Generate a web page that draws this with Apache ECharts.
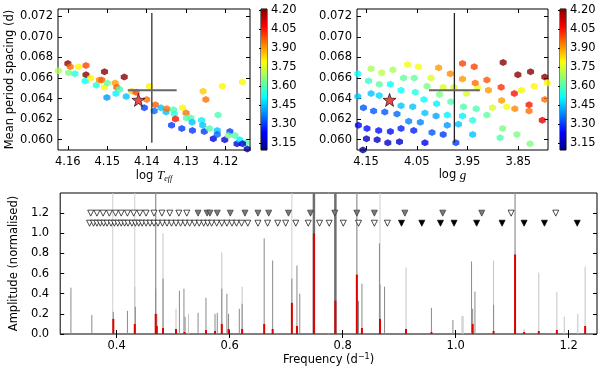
<!DOCTYPE html>
<html>
<head>
<meta charset="utf-8">
<script src="https://cdn.jsdelivr.net/npm/echarts@6/dist/echarts.min.js"></script>
<style>
  html, body { margin: 0; padding: 0; background: #fff; }
  #chart { width: 600px; height: 370px; }
</style>
</head>
<body>
<div id="chart"></div>
<script>
// models: [log Teff, mean period spacing, colour value]
const teffPoints = [
  [4.1624, 0.0667, 3.70], [4.1600, 0.0674, 4.20], [4.1594, 0.0671, 3.95], [4.1598, 0.0665, 3.65],
  [4.1582, 0.0664, 3.55], [4.1573, 0.0671, 3.80], [4.1554, 0.0672, 4.00], [4.1554, 0.0663, 4.20],
  [4.1556, 0.0657, 3.52], [4.1542, 0.0660, 3.80], [4.1528, 0.0653, 3.55], [4.1520, 0.0658, 3.92],
  [4.1514, 0.0658, 3.97], [4.1507, 0.0666, 4.20], [4.1507, 0.0651, 3.80], [4.1500, 0.0655, 3.62],
  [4.1501, 0.0641, 3.40], [4.1480, 0.0655, 3.90], [4.1476, 0.0651, 3.97], [4.1478, 0.0645, 3.50],
  [4.1469, 0.0649, 3.60], [4.1457, 0.0661, 4.20], [4.1452, 0.0642, 3.45], [4.1438, 0.0647, 3.85],
  [4.1427, 0.0646, 4.00], [4.1406, 0.0631, 3.30], [4.1400, 0.0639, 3.95], [4.1393, 0.0652, 3.80],
  [4.1381, 0.0628, 3.35], [4.1378, 0.0634, 3.97], [4.1364, 0.0631, 3.45], [4.1351, 0.0627, 3.45],
  [4.1349, 0.0630, 3.95], [4.1337, 0.0614, 3.30], [4.1332, 0.0629, 3.60], [4.1330, 0.0625, 3.55],
  [4.1327, 0.0620, 4.05], [4.1311, 0.0611, 3.30], [4.1309, 0.0631, 3.80], [4.1300, 0.0626, 3.95],
  [4.1299, 0.0621, 3.60], [4.1288, 0.0621, 3.60], [4.1285, 0.0617, 3.45], [4.1284, 0.0609, 3.30],
  [4.1261, 0.0619, 3.50], [4.1258, 0.0614, 3.45], [4.1257, 0.0647, 3.85], [4.1254, 0.0608, 3.30],
  [4.1250, 0.0639, 3.95], [4.1241, 0.0611, 3.60], [4.1231, 0.0601, 3.20], [4.1221, 0.0609, 3.45],
  [4.1219, 0.0624, 3.60], [4.1221, 0.0605, 3.35], [4.1208, 0.0652, 3.80], [4.1202, 0.0600, 3.20],
  [4.1189, 0.0608, 3.30], [4.1193, 0.0604, 3.65], [4.1176, 0.0604, 3.60], [4.1171, 0.0596, 3.20],
  [4.1164, 0.0600, 3.50], [4.1157, 0.0656, 3.80], [4.1149, 0.0597, 3.60], [4.1157, 0.0596, 3.20],
  [4.1145, 0.0591, 3.12]
];

// models: [log g, mean period spacing, colour value]
const loggPoints = [
  [4.166, 0.0664, 3.52], [4.166, 0.0642, 3.45], [4.140, 0.0669, 3.70], [4.145, 0.0657, 3.57],
  [4.140, 0.0645, 3.45], [4.155, 0.0631, 3.33], [4.165, 0.0614, 3.22], [4.148, 0.0611, 3.25],
  [4.149, 0.0601, 3.17], [4.156, 0.0590, 3.12], [4.119, 0.0665, 3.72], [4.124, 0.0654, 3.62],
  [4.124, 0.0643, 3.47], [4.135, 0.0628, 3.33], [4.125, 0.0609, 3.25], [4.128, 0.0600, 3.17],
  [4.097, 0.0668, 3.70], [4.102, 0.0654, 3.52], [4.113, 0.0627, 3.33], [4.102, 0.0608, 3.25],
  [4.107, 0.0597, 3.17], [4.081, 0.0648, 3.52], [4.089, 0.0625, 3.35], [4.081, 0.0633, 3.45],
  [4.081, 0.0611, 3.27], [4.084, 0.0598, 3.18], [4.076, 0.0660, 3.62], [4.068, 0.0673, 3.78],
  [4.056, 0.0609, 3.27], [4.066, 0.0618, 3.38], [4.058, 0.0632, 3.45], [4.053, 0.0646, 3.55],
  [4.055, 0.0660, 3.62], [4.047, 0.0671, 3.78], [4.034, 0.0597, 3.22], [4.043, 0.0617, 3.38],
  [4.034, 0.0626, 3.45], [4.036, 0.0639, 3.52], [4.030, 0.0652, 3.65], [4.022, 0.0660, 3.75],
  [4.007, 0.0670, 3.90], [4.020, 0.0607, 3.33], [4.012, 0.0623, 3.42], [4.011, 0.0635, 3.50],
  [4.005, 0.0644, 3.65], [3.998, 0.0651, 3.75], [3.984, 0.0664, 3.92], [3.998, 0.0605, 3.30],
  [3.990, 0.0614, 3.40], [3.990, 0.0624, 3.50], [3.983, 0.0637, 3.60], [3.977, 0.0651, 3.75],
  [3.973, 0.0597, 3.30], [3.960, 0.0674, 4.00], [3.960, 0.0659, 3.90], [3.952, 0.0645, 3.75],
  [3.958, 0.0632, 3.60], [3.960, 0.0623, 3.50], [3.968, 0.0615, 3.45], [3.940, 0.0605, 3.45],
  [3.940, 0.0619, 3.55], [3.933, 0.0630, 3.60], [3.930, 0.0650, 3.78], [3.937, 0.0671, 4.00],
  [3.935, 0.0655, 3.95], [3.912, 0.0658, 3.98], [3.909, 0.0648, 3.90], [3.901, 0.0631, 3.75],
  [3.912, 0.0624, 3.62], [3.886, 0.0602, 3.60], [3.881, 0.0611, 3.65], [3.884, 0.0651, 4.02],
  [3.883, 0.0638, 3.90], [3.880, 0.0675, 4.20], [3.873, 0.0632, 3.78], [3.844, 0.0648, 3.80],
  [3.858, 0.0645, 4.05], [3.857, 0.0630, 3.92], [3.851, 0.0663, 4.20], [3.853, 0.0605, 3.65],
  [3.826, 0.0666, 4.20], [3.829, 0.0634, 4.05], [3.829, 0.0628, 3.95], [3.819, 0.0652, 3.80],
  [3.827, 0.0596, 3.65], [3.803, 0.0619, 4.10], [3.798, 0.0661, 4.20], [3.798, 0.0639, 3.95],
  [3.793, 0.0655, 3.80]
];

const bestTeff = [4.1421, 0.06387];
const bestLogg = [4.1036, 0.06387];
const obsTeff = [4.1448, 4.1324];
const obsLogg = [4.026, 3.926];
const obsTeffMid = 4.1387;
const obsLoggMid = 3.976;
const obsDP = 0.0648;
const obsDPRange = [0.0597, 0.0723];

const colourMin = 3.097;
const colourMax = 4.21;
const colourTicks = [3.15, 3.30, 3.45, 3.60, 3.75, 3.90, 4.05, 4.20];
const dpTicks = [0.060, 0.062, 0.064, 0.066, 0.068, 0.070, 0.072];
const teffTicks = [4.16, 4.15, 4.14, 4.13, 4.12];
const loggTicks = [4.15, 4.05, 3.95, 3.85];
const freqTicks = [0.4, 0.6, 0.8, 1.0, 1.2];
const ampTicks = [0.0, 0.2, 0.4, 0.6, 0.8, 1.0, 1.2];

// periodogram peaks: [frequency, amplitude]
const grayPeaks = [
  [0.319, 0.46], [0.356, 0.19], [0.394, 0.22], [0.419, 0.23], [0.433, 0.27], [0.469, 0.45],
  [0.471, 0.20], [0.482, 0.55], [0.511, 0.43], [0.519, 0.45], [0.521, 0.17], [0.544, 0.21],
  [0.558, 0.36], [0.574, 0.20], [0.578, 0.21], [0.586, 0.45], [0.595, 0.40], [0.598, 0.20],
  [0.617, 0.25], [0.622, 0.30], [0.661, 0.95], [0.676, 0.73], [0.710, 0.55], [0.719, 0.68],
  [0.724, 0.40], [0.828, 0.33], [0.834, 0.50], [0.865, 0.90], [0.866, 0.49], [0.874, 0.47],
  [0.957, 0.26], [0.995, 0.14], [1.028, 0.72], [1.030, 0.25], [1.034, 0.42], [1.067, 0.29]
];
const lightPeaks = [
  [0.432, 0.47], [0.482, 1.00], [0.505, 0.25], [0.527, 0.20], [0.586, 0.81], [0.622, 0.47],
  [0.912, 0.66], [1.011, 0.18], [1.013, 0.18], [1.067, 0.73], [1.121, 0.05], [1.147, 0.61],
  [1.179, 0.42], [1.192, 0.17], [1.216, 0.20], [1.229, 0.67]
];
const redPeaks = [
  [0.394, 0.15], [0.432, 0.10], [0.469, 0.20], [0.471, 0.08], [0.482, 0.06], [0.505, 0.05],
  [0.520, 0.02], [0.558, 0.04], [0.574, 0.03], [0.586, 0.10], [0.598, 0.05], [0.622, 0.05],
  [0.661, 0.10], [0.676, 0.05], [0.710, 0.31], [0.719, 0.08], [0.749, 1.00], [0.787, 0.33],
  [0.825, 0.59], [0.834, 0.06], [0.866, 0.15], [0.912, 0.05], [0.957, 0.02], [1.030, 0.10],
  [1.067, 0.03], [1.105, 0.79], [1.121, 0.02], [1.147, 0.03], [1.179, 0.04], [1.229, 0.08]
];
const modeLinesDark = [0.749, 0.787];
const modeLinesMid = [0.469, 0.825, 1.105];
const modeLinesLight = [0.393, 0.432, 0.710, 0.866];

// triangle markers (two rows)
const rowHigh = 1.2;
const rowLow = 1.1;
const highOpen = [0.354, 0.365, 0.376, 0.387, 0.398, 0.408, 0.419, 0.430, 0.441, 0.452,
  0.466, 0.480, 0.494, 0.510, 0.524, 1.098, 1.177];
const highGray = [0.544, 0.560, 0.565, 0.578, 0.601, 0.627, 0.650, 0.669, 0.704, 0.743,
  0.786, 0.825, 0.856, 0.910, 0.977, 1.046];
const lowOpen = [0.352, 0.359, 0.365, 0.371, 0.377, 0.383, 0.390, 0.396, 0.402, 0.408,
  0.414, 0.420, 0.427, 0.433, 0.439, 0.445, 0.452, 0.459, 0.466, 0.473, 0.481, 0.489,
  0.497, 0.505, 0.513, 0.521, 0.529, 0.538, 0.546, 0.554, 0.561, 0.568, 0.577, 0.586,
  0.595, 0.604, 0.612, 0.621, 0.632, 0.650, 0.667, 0.685, 0.699, 0.717, 0.739, 0.759,
  0.776, 0.801, 0.828, 0.856, 0.879];
const lowBlack = [0.904, 0.940, 0.973, 0.997, 1.037, 1.082, 1.121, 1.157, 1.215];

const FONT = 'DejaVu Sans';
const FS = 11.5;
const jet = ['#00007f', '#0000ff', '#007fff', '#00ffff', '#7fff7f', '#ffff00', '#ff7f00', '#ff0000', '#7f0000'];
const hexagon = 'path://M0,-1L0.866,-0.5L0.866,0.5L0,1L-0.866,0.5L-0.866,-0.5Z';
const star = 'path://M0,-10L2.35,-3.24L9.51,-3.09L3.8,1.24L5.88,8.09L0,4L-5.88,8.09L-3.8,1.24L-9.51,-3.09L-2.35,-3.24Z';

const chart = echarts.init(document.getElementById('chart'));

const frame = { show: true, borderColor: '#000', borderWidth: 1, backgroundColor: 'transparent' };
const grids = [
  Object.assign({ left: 58, top: 9, width: 192, height: 141 }, frame),
  Object.assign({ left: 261, top: 9, width: 6, height: 141 }, frame),
  Object.assign({ left: 357, top: 9, width: 191, height: 141 }, frame),
  Object.assign({ left: 560, top: 9, width: 6, height: 141 }, frame),
  Object.assign({ left: 58, top: 193, width: 539, height: 141 }, frame)
];

const lbl = { color: '#000', fontFamily: FONT, fontSize: FS };
function valAxis(o) {
  const ticks = o.ticks || [];
  return Object.assign({
    type: 'value', scale: true,
    axisLine: { show: false },
    splitLine: { show: false },
    axisTick: { show: ticks.length > 0, inside: true, length: 4, customValues: ticks, lineStyle: { color: '#000' } },
    axisLabel: o.labels === false ? { show: false } :
      Object.assign({ customValues: ticks, formatter: v => v.toFixed(o.dec) }, lbl, o.labelExtra || {})
  }, o.base);
}

const xAxes = [
  valAxis({ ticks: teffTicks, dec: 2, labelExtra: { margin: 6 }, base: { gridIndex: 0, min: 4.1138, max: 4.1625, inverse: true,
    name: '{a|log }{b|T}{c|eff}', nameLocation: 'middle', nameGap: 19,
    nameTextStyle: { rich: {
      a: { fontFamily: FONT, fontSize: FS, color: '#000' },
      b: { fontFamily: 'Liberation Serif', fontStyle: 'italic', fontSize: 13, color: '#000' },
      c: { fontFamily: 'Liberation Serif', fontStyle: 'italic', fontSize: 8, color: '#000', padding: [6, 0, 0, 0] }
    } } } }),
  valAxis({ ticks: teffTicks, labels: false, base: { gridIndex: 0, position: 'top', min: 4.1138, max: 4.1625, inverse: true } }),
  valAxis({ labels: false, base: { gridIndex: 1, min: 0, max: 1 } }),
  valAxis({ ticks: loggTicks, dec: 2, labelExtra: { margin: 6 }, base: { gridIndex: 2, min: 3.7917, max: 4.1677, inverse: true,
    name: '{a|log }{b|g}', nameLocation: 'middle', nameGap: 19,
    nameTextStyle: { rich: {
      a: { fontFamily: FONT, fontSize: FS, color: '#000' },
      b: { fontFamily: 'Liberation Serif', fontStyle: 'italic', fontSize: 13, color: '#000' }
    } } } }),
  valAxis({ ticks: loggTicks, labels: false, base: { gridIndex: 2, position: 'top', min: 3.7917, max: 4.1677, inverse: true } }),
  valAxis({ labels: false, base: { gridIndex: 3, min: 0, max: 1 } }),
  valAxis({ ticks: freqTicks, dec: 1, labelExtra: { margin: 6 }, base: { gridIndex: 4, min: 0.3, max: 1.25,
    name: '{a|Frequency (d}{b|\u22121}{a|)}', nameLocation: 'middle', nameGap: 18,
    nameTextStyle: { rich: {
      a: { fontFamily: FONT, fontSize: FS, color: '#000' },
      b: { fontFamily: FONT, fontSize: 8, color: '#000', padding: [0, 0, 6, 0] }
    } } } }),
  valAxis({ ticks: freqTicks, labels: false, base: { gridIndex: 4, position: 'top', min: 0.3, max: 1.25 } })
];

const yAxes = [
  valAxis({ ticks: dpTicks, dec: 3, labelExtra: { margin: 5 }, base: { gridIndex: 0, min: 0.0590, max: 0.0727,
    name: 'Mean period spacing (d)', nameLocation: 'middle', nameGap: 41,
    nameTextStyle: { fontFamily: FONT, fontSize: FS, color: '#000' } } }),
  valAxis({ ticks: dpTicks, labels: false, base: { gridIndex: 0, position: 'right', min: 0.0590, max: 0.0727 } }),
  valAxis({ dec: 2, ticks: colourTicks, labelExtra: { margin: 4 }, base: { gridIndex: 1, position: 'right', min: colourMin, max: colourMax } }),
  valAxis({ ticks: dpTicks, dec: 3, labelExtra: { margin: 5 }, base: { gridIndex: 2, min: 0.0590, max: 0.0727 } }),
  valAxis({ ticks: dpTicks, labels: false, base: { gridIndex: 2, position: 'right', min: 0.0590, max: 0.0727 } }),
  valAxis({ dec: 2, ticks: colourTicks, labelExtra: { margin: 4 }, base: { gridIndex: 3, position: 'right', min: colourMin, max: colourMax } }),
  valAxis({ ticks: ampTicks, dec: 1, labelExtra: { margin: 11 }, base: { gridIndex: 4, min: 0, max: 1.4,
    name: 'Amplitude (normalised)', nameLocation: 'middle', nameGap: 40,
    nameTextStyle: { fontFamily: FONT, fontSize: FS, color: '#000' } } }),
  valAxis({ ticks: ampTicks, labels: false, base: { gridIndex: 4, position: 'right', min: 0, max: 1.4 } })
];
// colorbar ticks drawn short on the bar
yAxes[2].axisTick.length = 2;
yAxes[5].axisTick.length = 2;

function segment(xi, yi, pts, color, width) {
  return { type: 'line', xAxisIndex: xi, yAxisIndex: yi, data: pts, symbol: 'none', silent: true,
    lineStyle: { color: color, width: width }, z: 4 };
}

function spikes(data, color, width, z) {
  return {
    type: 'custom', xAxisIndex: 6, yAxisIndex: 6, data: data, silent: true, z: z, clip: true,
    renderItem: function (params, api) {
      const p0 = api.coord([api.value(0), 0]);
      const p1 = api.coord([api.value(0), api.value(1)]);
      return { type: 'line', shape: { x1: p0[0], y1: p0[1], x2: p1[0], y2: p1[1] },
        style: { stroke: color, lineWidth: width } };
    }
  };
}

function colourBar(xi, yi) {
  return {
    type: 'custom', xAxisIndex: xi, yAxisIndex: yi, data: [[0, colourMin, 1, colourMax]], silent: true,
    renderItem: function (params, api) {
      const a = api.coord([api.value(0), api.value(3)]);
      const b = api.coord([api.value(2), api.value(1)]);
      const stops = jet.slice().reverse().map((c, i) => ({ offset: i / (jet.length - 1), color: c }));
      return { type: 'rect', shape: { x: a[0], y: a[1], width: b[0] - a[0], height: b[1] - a[1] },
        style: { fill: new echarts.graphic.LinearGradient(0, 0, 0, 1, stops) } };
    }
  };
}

function triangles(freqs, level, fill, border) {
  return { type: 'scatter', xAxisIndex: 6, yAxisIndex: 6, data: freqs.map(f => [f, level]),
    symbol: 'triangle', symbolRotate: 180, symbolSize: [6, 6], silent: true, z: 5,
    itemStyle: { color: fill, borderColor: border, borderWidth: 0.7, opacity: 1 } };
}

const ampTop = 1.4;
const series = [
  { type: 'scatter', xAxisIndex: 0, yAxisIndex: 0, data: teffPoints, symbol: hexagon, symbolSize: 7, silent: true, z: 3 },
  { type: 'scatter', xAxisIndex: 3, yAxisIndex: 3, data: loggPoints, symbol: hexagon, symbolSize: 7, silent: true, z: 3 },
  segment(0, 0, [[obsTeffMid, obsDPRange[0]], [obsTeffMid, obsDPRange[1]]], '#333', 1.3),
  segment(0, 0, [[obsTeff[0], obsDP], [obsTeff[1], obsDP]], '#666', 2),
  segment(3, 3, [[obsLoggMid, obsDPRange[0]], [obsLoggMid, obsDPRange[1]]], '#222', 1.3),
  segment(3, 3, [[obsLogg[0], obsDP], [obsLogg[1], obsDP]], '#666', 2),
  { type: 'scatter', xAxisIndex: 0, yAxisIndex: 0, data: [bestTeff], symbol: star, symbolSize: 13, silent: true, z: 6,
    itemStyle: { color: '#e3201b', borderColor: '#000', borderWidth: 0.8 } },
  { type: 'scatter', xAxisIndex: 3, yAxisIndex: 3, data: [bestLogg], symbol: star, symbolSize: 13, silent: true, z: 6,
    itemStyle: { color: '#e3201b', borderColor: '#000', borderWidth: 0.8 } },
  colourBar(2, 2),
  colourBar(5, 5),
  spikes(modeLinesLight.map(f => [f, ampTop]), '#cfcfcf', 1, 1),
  spikes(modeLinesMid.map(f => [f, ampTop]), '#999', 1.3, 1),
  spikes(modeLinesDark.map(f => [f, ampTop]), '#6f6f6f', 2.5, 1),
  spikes(lightPeaks, '#c4c4c4', 1, 2),
  spikes(grayPeaks, '#8a8a8a', 1, 2),
  spikes(redPeaks, '#e00000', 2, 3),
  triangles(highOpen, rowHigh, '#fff', '#000'),
  triangles(highGray, rowHigh, '#7a7a7a', '#333'),
  triangles(lowOpen, rowLow, '#fff', '#000'),
  triangles(lowBlack, rowLow, '#000', '#000')
];

chart.setOption({
  animation: false,
  backgroundColor: '#fff',
  grid: grids,
  xAxis: xAxes,
  yAxis: yAxes,
  visualMap: { type: 'continuous', show: false, min: colourMin, max: colourMax, dimension: 2,
    seriesIndex: [0, 1], inRange: { color: jet } },
  series: series
});
</script>
</body>
</html>
